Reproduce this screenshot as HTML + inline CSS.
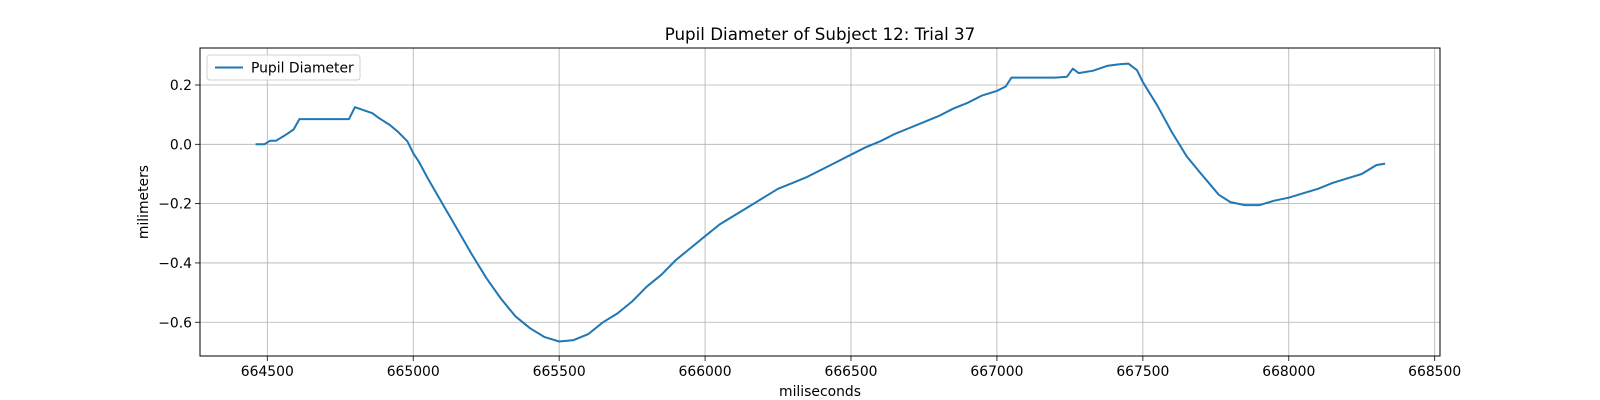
<!DOCTYPE html>
<html><head><meta charset="utf-8"><style>
html,body{margin:0;padding:0;background:#fff;}
svg{display:block;font-family:"DejaVu Sans","Liberation Sans",sans-serif;}
</style></head><body>
<svg id="chart" width="1600" height="400"></svg>
<script>
const times=[664460,664490,664510,664530,664560,664590,664610,664700,664780,664800,664830,664860,664880,664920,664950,664980,665000,665020,665050,665100,665150,665200,665250,665300,665350,665400,665450,665500,665550,665600,665650,665700,665750,665800,665850,665900,665950,666000,666050,666100,666150,666200,666250,666300,666350,666400,666450,666500,666550,666600,666650,666700,666750,666800,666850,666900,666950,667000,667030,667050,667100,667200,667240,667260,667280,667330,667380,667420,667450,667480,667500,667550,667600,667650,667700,667730,667760,667800,667850,667900,667950,668000,668050,668100,668150,668200,668250,668300,668330];
const values=[0,0,0.012,0.012,0.03,0.05,0.085,0.085,0.085,0.125,0.115,0.105,0.09,0.065,0.04,0.01,-0.03,-0.06,-0.115,-0.2,-0.285,-0.37,-0.45,-0.52,-0.58,-0.62,-0.65,-0.665,-0.66,-0.64,-0.6,-0.57,-0.53,-0.48,-0.44,-0.39,-0.35,-0.31,-0.27,-0.24,-0.21,-0.18,-0.15,-0.13,-0.11,-0.085,-0.06,-0.035,-0.01,0.01,0.035,0.055,0.075,0.095,0.12,0.14,0.165,0.18,0.195,0.225,0.225,0.225,0.228,0.255,0.24,0.248,0.265,0.27,0.272,0.25,0.21,0.13,0.04,-0.04,-0.1,-0.135,-0.17,-0.195,-0.205,-0.205,-0.19,-0.18,-0.165,-0.15,-0.13,-0.115,-0.1,-0.07,-0.065];
const xTicks=[664500,665000,665500,666000,666500,667000,667500,668000,668500];
const yTicks=[0.2,0.0,-0.2,-0.4,-0.6];
const yTickLabels=["0.2","0.0","\u22120.2","\u22120.4","\u22120.6"];

const L=200,R=1440,T=48,B=356;
const xs=t=>267.3+(t-664500)*(1167.4/4000);
const ys=v=>144.3-v*296.6;
const svg=document.getElementById('chart');
const NS='http://www.w3.org/2000/svg';
function mk(tag,attrs,parent){const e=document.createElementNS(NS,tag);for(const k in attrs)e.setAttribute(k,attrs[k]);(parent||svg).appendChild(e);return e;}

xTicks.forEach(t=>{
  const x=xs(t);
  const g=mk('line',{x1:x,x2:x,y1:T,y2:B,stroke:'#b0b0b0','stroke-width':0.8});
  
  
  mk('line',{x1:x,x2:x,y1:B,y2:B+5,stroke:'#000','stroke-width':0.8});
  const lb=mk('text',{x:x,y:B+20,'font-size':13.9,'text-anchor':'middle',fill:'#000'});
  lb.textContent=t;
  
  
});
yTicks.forEach((v,i)=>{
  const y=ys(v);
  const g=mk('line',{x1:L,x2:R,y1:y,y2:y,stroke:'#b0b0b0','stroke-width':0.8});
  
  
  mk('line',{x1:L-5,x2:L,y1:y,y2:y,stroke:'#000','stroke-width':0.8});
  const lb=mk('text',{x:L-8,y:y+5,'font-size':13.9,'text-anchor':'end',fill:'#000'});
  lb.textContent=yTickLabels[i];
  
  
});

const d=times.map((t,i)=>(i?'L':'M')+xs(t).toFixed(1)+','+ys(values[i]).toFixed(1)).join(' ');
const line=mk('path',{d:d,fill:'none',stroke:'#1f77b4','stroke-width':2,'stroke-linejoin':'round'});



const fr=mk('rect',{x:L,y:T,width:R-L,height:B-T,fill:'none',stroke:'#000','stroke-width':1});



const title=mk('text',{x:(L+R)/2,y:40,'font-size':16.7,'text-anchor':'middle',fill:'#000'});
title.textContent='Pupil Diameter of Subject 12: Trial 37';



const xl=mk('text',{x:(L+R)/2,y:396,'font-size':13.9,'text-anchor':'middle',fill:'#000'});
xl.textContent='miliseconds';



const cy=(T+B)/2;
const yl=mk('text',{x:148,y:cy,'font-size':13.9,'text-anchor':'middle',fill:'#000',transform:'rotate(-90 148 '+cy+')'});
yl.textContent='milimeters';



const lg=mk('g',{});


mk('rect',{x:207,y:55,width:153,height:25,rx:3,fill:'#fff','fill-opacity':0.8,stroke:'#d0d0d0','stroke-width':1},lg);
mk('line',{x1:215,x2:243,y1:67.5,y2:67.5,stroke:'#1f77b4','stroke-width':2},lg);
const lt=mk('text',{x:251,y:72.5,'font-size':13.9,fill:'#000'},lg);
lt.textContent='Pupil Diameter';


</script>
</body></html>
